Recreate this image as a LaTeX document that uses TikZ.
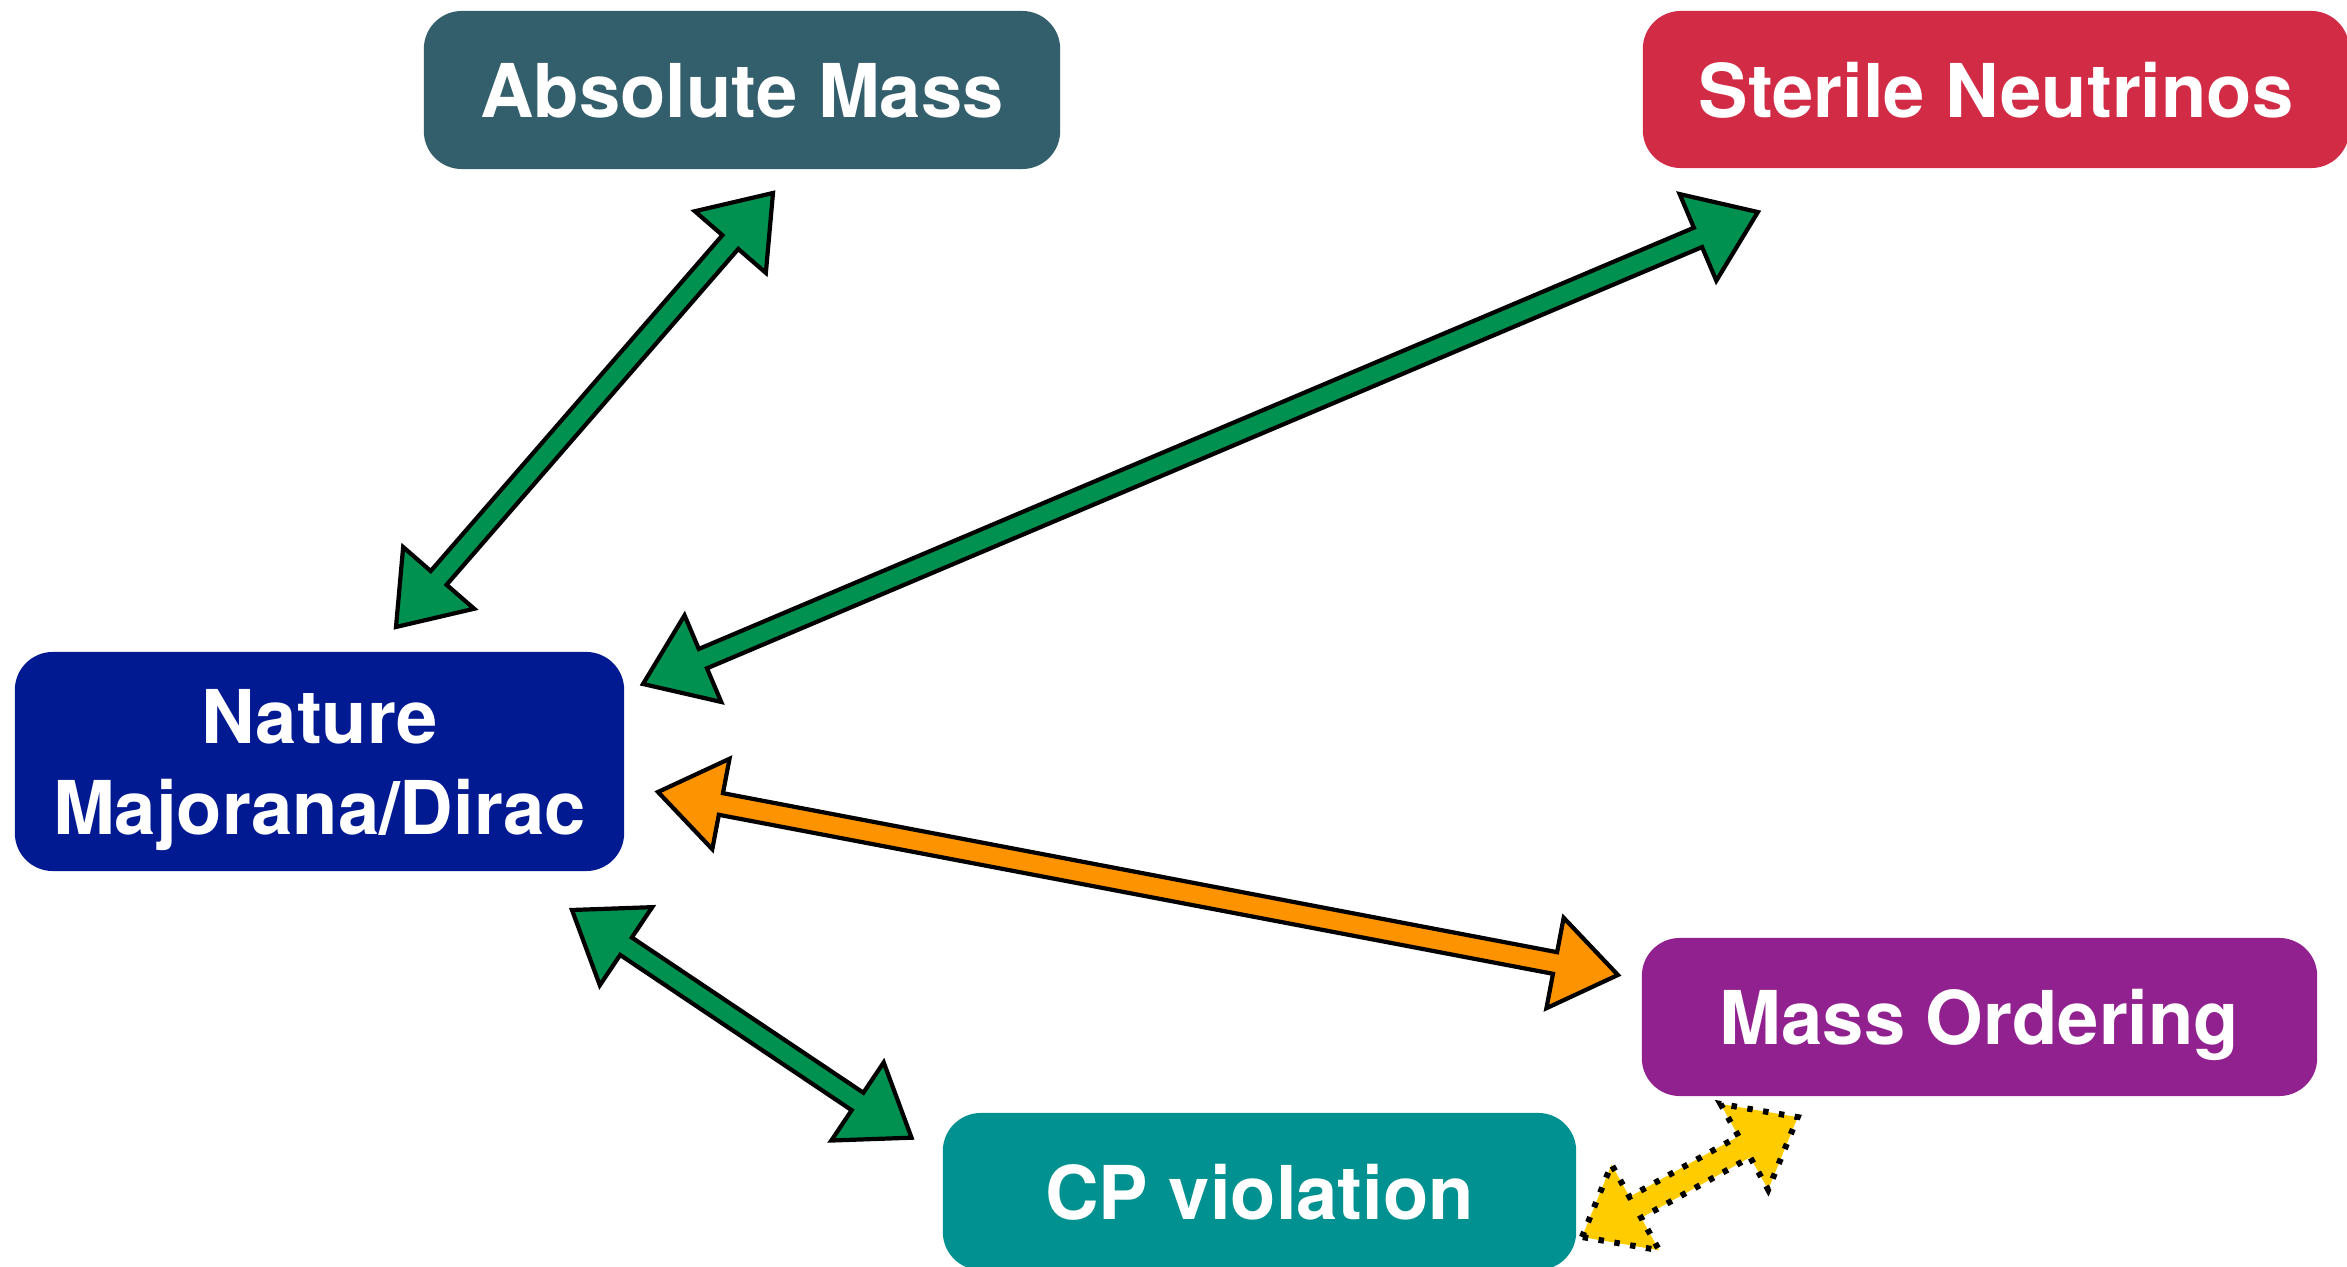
\documentclass[tikz,border=0pt]{standalone}
\usepackage{fontspec}
\setmainfont{TeX Gyre Heros}
\definecolor{absc}{RGB}{51,94,108}
\definecolor{sterc}{RGB}{210,43,69}
\definecolor{natc}{RGB}{2,26,145}
\definecolor{moc}{RGB}{146,33,144}
\definecolor{cpc}{RGB}{0,145,144}
\definecolor{grn}{RGB}{0,144,80}
\definecolor{orng}{RGB}{254,147,0}
\definecolor{ylw}{RGB}{255,204,0}
% block double arrow: from, to, style, head length, head half width, shaft half width
\newcommand\blockarrow[6]{%
  \pgfpointdiff{\pgfpointanchor{#1}{center}}{\pgfpointanchor{#2}{center}}%
  \pgfgetlastxy\baDx\baDy
  \pgfmathsetmacro\baAng{atan2(\baDy,\baDx)}%
  \pgfmathsetmacro\baLen{veclen(\baDx,\baDy)}%
  \draw[#3, shift={(#1)}, rotate=\baAng]
    (0pt,0pt) -- (#4,#5) -- (#4,#6) -- ({\baLen pt-#4},#6) -- ({\baLen pt-#4},#5)
    -- (\baLen pt,0pt) -- ({\baLen pt-#4},-#5) -- ({\baLen pt-#4},-#6)
    -- (#4,-#6) -- (#4,-#5) -- cycle;
}
\tikzset{
  box/.style={rounded corners=0.38cm, inner sep=0pt, text=white, align=center,
    text depth=0pt, font=\fontsize{21.1pt}{25.9pt}\selectfont\bfseries},
  arrowline/.style={draw=black, line width=0.042cm, line join=miter},
  greenarrow/.style={arrowline, fill=grn},
  orangearrow/.style={arrowline, fill=orng},
  yellowarrow/.style={draw=black, fill=ylw, line width=0.06cm, dash pattern=on 0.055cm off 0.105cm},
}
\begin{document}
\begin{tikzpicture}[x=0.01cm, y=-0.01cm]
\clip (0,0) rectangle (2347,1267);
\fill[white] (0,0) rectangle (2347,1267);

\node[box, fill=absc, minimum width=6.36cm, minimum height=1.58cm] (abs) at (742,90) {Absolute Mass};
\node[box, fill=sterc, minimum width=7.06cm, minimum height=1.57cm] (ster) at (1996,89.5) {Sterile Neutrinos};
\node[box, fill=natc, minimum width=6.09cm, minimum height=2.19cm] (nat) at (319.5,761.5) {Nature\\Majorana/Dirac};
\node[box, fill=moc, minimum width=6.75cm, minimum height=1.58cm] (mo) at (1979.5,1017) {Mass Ordering};
\node[box, fill=cpc, minimum width=6.33cm, minimum height=1.57cm] (cp) at (1259.5,1191.5) {CP violation};

\coordinate (a1s) at (396,627);
\coordinate (a1e) at (773,193);
\coordinate (a2s) at (643,684);
\coordinate (a2e) at (1758,212);
\coordinate (a3s) at (658,792);
\coordinate (a3e) at (1618,975);
\coordinate (a4s) at (572,910);
\coordinate (a4e) at (912,1138);
\coordinate (a5s) at (1582,1237);
\coordinate (a5e) at (1798,1117);

\blockarrow{a1s}{a1e}{greenarrow}{0.65cm}{0.47cm}{0.105cm}
\blockarrow{a2s}{a2e}{greenarrow}{0.65cm}{0.47cm}{0.105cm}
\blockarrow{a3s}{a3e}{orangearrow}{0.64cm}{0.46cm}{0.11cm}
\blockarrow{a4s}{a4e}{greenarrow}{0.65cm}{0.47cm}{0.105cm}
\blockarrow{a5s}{a5e}{yellowarrow}{0.61cm}{0.49cm}{0.12cm}
\end{tikzpicture}
\end{document}
